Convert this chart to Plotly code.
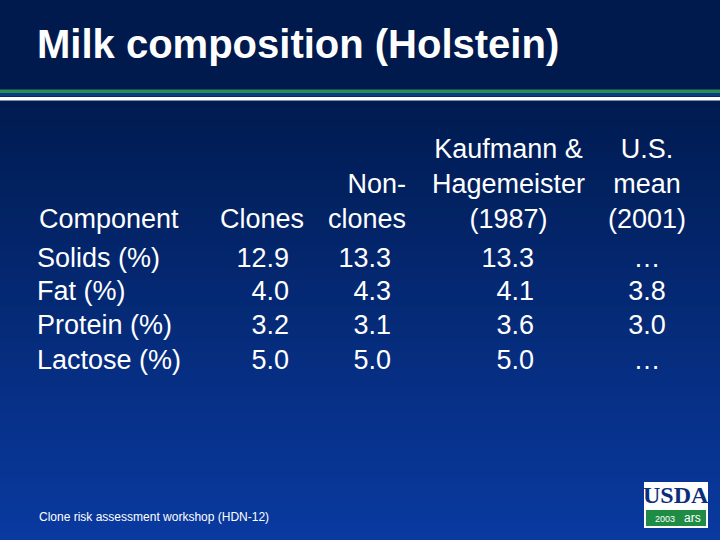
import plotly.graph_objects as go

components = ["Solids (%)", "Fat (%)", "Protein (%)", "Lactose (%)"]
headers = ["Component", "Clones", "Non-<br>clones", "Kaufmann &<br>Hagemeister<br>(1987)", "U.S.<br>mean<br>(2001)"]
clones = ["12.9", "4.0", "3.2", "5.0"]
nonclones = ["13.3", "4.3", "3.1", "5.0"]
kaufmann = ["13.3", "4.1", "3.6", "5.0"]
us_mean = ["…", "3.8", "3.0", "…"]

# layout positions (pixels)
col_x = [37, 289, 391, 534, 647]
col_pos = ["middle right", "middle left", "middle left", "middle left", "middle center"]
head_x = [37, 306, 408, 508, 647]
head_anchor = ["left", "right", "right", "center", "center"]
row_y = [260, 293, 327, 362]
head_bottom = 236

fig = go.Figure()
font = dict(family="Liberation Sans, Arial", size=27, color="white")
cols = [components, clones, nonclones, kaufmann, us_mean]
for i, vals in enumerate(cols):
    fig.add_trace(go.Scatter(x=[col_x[i]] * len(vals), y=row_y, text=vals, mode="text",
                             textposition=col_pos[i], textfont=font, hoverinfo="skip"))
for i, h in enumerate(headers):
    xa = head_anchor[i]
    fig.add_annotation(x=head_x[i], y=head_bottom, text=h, showarrow=False, xanchor=xa,
                       yanchor="bottom", align="right" if xa == "right" else "center",
                       font=font, xref="x", yref="y")

shapes = []
n = 60
top = (0, 26, 77); bot = (10, 58, 160)
for k in range(n):
    t = k / (n - 1)
    t2 = max(0, (t - 0.15) / 0.85)
    c = tuple(int(top[j] + (bot[j] - top[j]) * t2) for j in range(3))
    shapes.append(dict(type="rect", x0=0, x1=720, y0=540 * k / n, y1=540 * (k + 1) / n + 1,
                       fillcolor="rgb(%d,%d,%d)" % c, line_width=0, layer="below"))
shapes += [
    dict(type="rect", x0=0, x1=720, y0=89.5, y1=93, fillcolor="#2E8B57", line_width=0, layer="below"),
    dict(type="rect", x0=0, x1=720, y0=93, y1=96.5, fillcolor="#0A3F80", line_width=0, layer="below"),
    dict(type="rect", x0=0, x1=720, y0=97, y1=100.5, fillcolor="white", line_width=0, layer="below"),
    dict(type="rect", x0=644, x1=708, y0=482, y1=528, fillcolor="white", line_width=0),
    dict(type="rect", x0=646, x1=706, y0=510, y1=526, fillcolor="#1E8C45", line_width=0),
]
for s in shapes:
    s["xref"] = "x"; s["yref"] = "y"
fig.update_layout(shapes=shapes)

fig.add_annotation(x=35, y=44, text="<b>Milk composition (Holstein)</b>", showarrow=False, xanchor="left",
                   font=dict(family="Liberation Sans, Arial", size=40, color="white"))
fig.add_annotation(x=37, y=517, text="Clone risk assessment workshop (HDN-12)", showarrow=False, xanchor="left",
                   font=dict(family="Liberation Sans, Arial", size=12, color="white"))
fig.add_annotation(x=676, y=495, text="<b>USDA</b>", showarrow=False,
                   font=dict(family="Liberation Serif, Times New Roman", size=24, color="#0B2D7A"))
fig.add_annotation(x=665, y=519, text="2003", showarrow=False, font=dict(family="Liberation Sans", size=9, color="white"))
fig.add_annotation(x=692, y=518, text="ars", showarrow=False, font=dict(family="Liberation Sans", size=12, color="white"))

fig.update_layout(width=720, height=540, margin=dict(l=0, r=0, t=0, b=0), showlegend=False,
                  paper_bgcolor="#001A4D", plot_bgcolor="#001A4D",
                  xaxis=dict(range=[0, 720], visible=False, fixedrange=True),
                  yaxis=dict(range=[540, 0], visible=False, fixedrange=True))
fig.write_html("out.html", config={"displayModeBar": False},
               post_script="document.body.style.margin='0';document.body.style.background='#001A4D';")
